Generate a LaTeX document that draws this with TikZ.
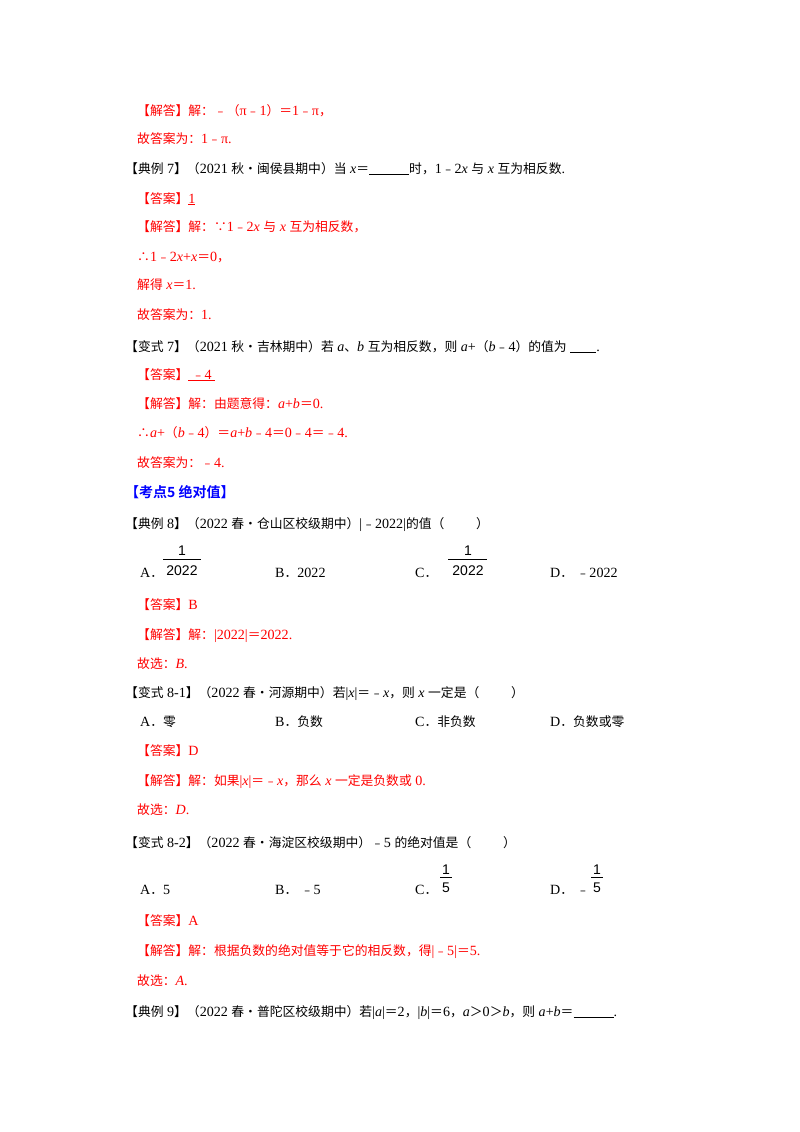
\documentclass[tikz,border=0pt]{standalone}
\usepackage{fontspec}
\setmainfont[Scale=1.1]{Liberation Serif}
\newfontfamily\cjk{Noto Sans CJK SC}
\newfontfamily\cjkb{Noto Sans CJK SC Bold}
\newfontfamily\fracf{Liberation Sans}
\def\lat{\rmfamily}
\XeTeXinterchartokenstate=1
\newXeTeXintercharclass\cjkc
\def\setcls#1#2{\count255=#1 \loop\XeTeXcharclass\count255=\cjkc\ifnum\count255<#2 \advance\count255 by 1 \repeat}
\setcls{"4E00}{"9FFF}\setcls{"3000}{"303F}\setcls{"FF00}{"FFEF}\setcls{"FE30}{"FE6F}
\XeTeXcharclass"2022=\cjkc \XeTeXcharclass"2234=\cjkc \XeTeXcharclass"2235=\cjkc
\XeTeXinterchartoks 0 \cjkc = {\cjk}
\XeTeXinterchartoks 4095 \cjkc = {\cjk}
\XeTeXinterchartoks \cjkc 0 = {\lat}
\XeTeXinterchartoks \cjkc 4095 = {\lat}
\definecolor{ansred}{RGB}{255,0,0}
\definecolor{kblue}{RGB}{0,0,255}
\newcommand\ti[1]{\textit{#1}}
\newcommand\blank[1]{\rule[-2pt]{#1}{0.7pt}}
\begin{document}
\begin{tikzpicture}[x=1pt,y=-1pt,
  t/.style={anchor=base west,inner sep=0pt,font=\fontsize{12.8}{15}\selectfont},
  r/.style={t,text=ansred},
  fr/.style={anchor=base,inner sep=0pt,font=\fracf\fontsize{14}{16}\selectfont}]
\useasboundingbox[fill=white] (0,0) rectangle (800,1132);
\node[r] (l1) at (137,115) {【解答】解：﹣（π﹣1）＝1﹣π，};
\node[r] (l2) at (137,143) {故答案为：1﹣π.};
\node[t] (l3) at (125,173) {【典例 7】（2021 秋•闽侯县期中）当 \ti{x}＝\blank{40pt}时，1﹣2\ti{x} 与 \ti{x} 互为相反数.};
\node[r] (l4) at (137,203) {【答案】\underline{1}};
\node[r] (l5) at (137,231) {【解答】解：∵1﹣2\ti{x} 与 \ti{x} 互为相反数，};
\node[r] (l6) at (137,261) {∴1﹣2\ti{x}+\ti{x}＝0，};
\node[r] (l7) at (137,289) {解得 \ti{x}＝1.};
\node[r] (l8) at (137,319) {故答案为：1.};
\node[t] (l9) at (125,351) {【变式 7】（2021 秋•吉林期中）若 \ti{a}、\ti{b} 互为相反数，则 \ti{a}+（\ti{b}﹣4）的值为\ \blank{26pt}.};
\node[r] (l10) at (137,379) {【答案】\underline{\ ﹣4\ }};
\node[r] (l11) at (137,408) {【解答】解：由题意得：\ti{a}+\ti{b}＝0.};
\node[r] (l12) at (137,437) {∴\ti{a}+（\ti{b}﹣4）＝\ti{a}+\ti{b}﹣4＝0﹣4＝﹣4.};
\node[r] (l13) at (137,467) {故答案为：﹣4.};
\node[t,text=kblue] (h5) at (125,497) {\XeTeXinterchartokenstate=0 \cjkb\fontsize{14}{16}\selectfont 【考点5\ 绝对值】};
\node[t] (l14) at (125,528) {【典例 8】（2022 春•仓山区校级期中）|﹣2022|的值（\qquad\ ）};
\node[t] (a8) at (140,577) {A．};
\node[fr] (a8n) at (182,555) {1};
\draw[line width=0.6pt] (163,559) -- (201,559);
\node[fr] (a8d) at (182,575) {2022};
\node[t] (b8) at (275,577) {B．2022};
\node[t] (c8) at (415,577) {C．};
\node[fr] (c8n) at (468,555) {1};
\draw[line width=0.6pt] (448,559) -- (487,559);
\node[fr] (c8d) at (468,575) {2022};
\node[t] (d8) at (550,577) {D．\ ﹣2022};
\node[r] (l15) at (137,609) {【答案】B};
\node[r] (l16) at (137,639) {【解答】解：|2022|＝2022.};
\node[r] (l17) at (137,668) {故选：\ti{B}.};
\node[t] (l18) at (125,697) {【变式 8-1】（2022 春•河源期中）若|\ti{x}|＝﹣\ti{x}，则 \ti{x} 一定是（\qquad\ ）};
\node[t] (a81) at (140,726) {A．零};
\node[t] (b81) at (275,726) {B．负数};
\node[t] (c81) at (415,726) {C．非负数};
\node[t] (d81) at (550,726) {D．负数或零};
\node[r] (l19) at (137,755) {【答案】D};
\node[r] (l20) at (137,785) {【解答】解：如果|\ti{x}|＝﹣\ti{x}，那么 \ti{x} 一定是负数或 0.};
\node[r] (l21) at (137,814) {故选：\ti{D}.};
\node[t] (l22) at (125,847) {【变式 8-2】（2022 春•海淀区校级期中）﹣5 的绝对值是（\qquad\ ）};
\node[t] (a82) at (140,894) {A．5};
\node[t] (b82) at (275,894) {B．\ ﹣5};
\node[t] (c82) at (415,894) {C．};
\node[fr] (c82n) at (446,874) {1};
\draw[line width=0.6pt] (440,877) -- (452,877);
\node[fr] (c82d) at (446,892) {5};
\node[t] (d82) at (550,894) {D．\ ﹣};
\node[fr] (d82n) at (597,874) {1};
\draw[line width=0.6pt] (591,877) -- (603,877);
\node[fr] (d82d) at (597,892) {5};
\node[r] (l23) at (137,925) {【答案】A};
\node[r] (l24) at (137,955) {【解答】解：根据负数的绝对值等于它的相反数，得|﹣5|＝5.};
\node[r] (l25) at (137,985) {故选：\ti{A}.};
\node[t] (l26) at (125,1016) {【典例 9】（2022 春•普陀区校级期中）若|\ti{a}|＝2，|\ti{b}|＝6，\ti{a}＞0＞\ti{b}，则 \ti{a}+\ti{b}＝\blank{40pt}.};
\end{tikzpicture}
\end{document}
